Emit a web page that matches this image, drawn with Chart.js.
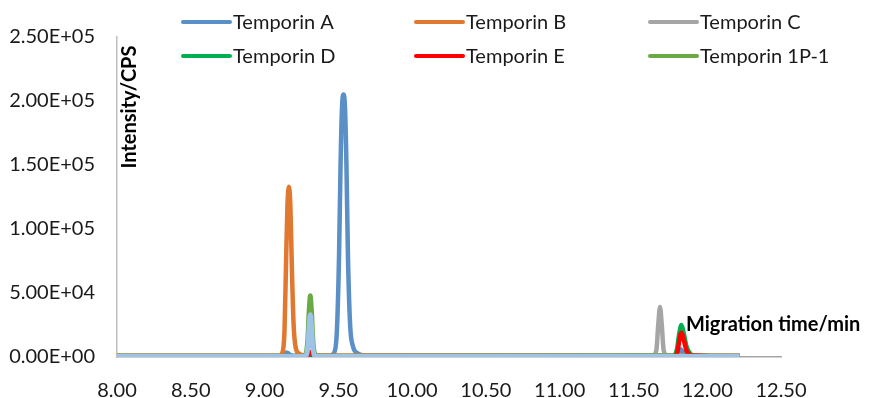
<!DOCTYPE html>
<html>
<head>
<meta charset="utf-8">
<script src="https://cdn.jsdelivr.net/npm/chart.js@4/dist/chart.umd.min.js"></script>
<style>
  html, body { margin: 0; padding: 0; background: #fff; }
  #wrap { position: relative; width: 886px; height: 398px; }
</style>
</head>
<body>
<div id="wrap"><canvas id="cePlot" width="886" height="398"></canvas></div>
<script>
// Tên các chuỗi (chú giải) và màu
const seriesNames = ['Temporin A', 'Temporin B', 'Temporin C', 'Temporin D', 'Temporin E', 'Temporin 1P-1'];
const seriesColors = ['#5B8FC7', '#E0782F', '#A5A5A5', '#00B050', '#FF0000', '#6AAA45', '#9DC3E6'];

// Trục
const xTicks = [8.00, 8.50, 9.00, 9.50, 10.00, 10.50, 11.00, 11.50, 12.00, 12.50];
const yTicks = [0, 50000, 100000, 150000, 200000, 250000];

// Dữ liệu (thời gian di chuyển / cường độ)
const timeA = [8.00, 9.10, 9.13, 9.15, 9.17, 9.20, 9.44, 9.47, 9.49, 9.505, 9.515, 9.525, 9.535, 9.545, 9.555, 9.565, 9.58, 9.60, 9.63, 9.68, 11.77, 11.80, 11.82, 11.84, 11.87, 12.22];
const valA  = [900, 900, 2000, 3500, 2000, 900, 900, 3000, 20000, 80000, 150000, 195000, 205000, 195000, 150000, 80000, 25000, 8000, 3000, 1200, 900, 2500, 6000, 3000, 900, 900];

const timeB = [8.00, 9.10, 9.12, 9.135, 9.145, 9.155, 9.165, 9.175, 9.185, 9.197, 9.21, 9.235, 9.28, 12.22];
const valB  = [1000, 1000, 3000, 20000, 70000, 118000, 133000, 118000, 70000, 25000, 8000, 2500, 1100, 1000];

const timeC = [8.00, 11.63, 11.655, 11.668, 11.68, 11.692, 11.705, 11.73, 12.22];
const valC  = [600, 800, 5000, 25000, 39000, 25000, 5000, 800, 600];

const timeD = [8.00, 11.77, 11.795, 11.81, 11.825, 11.84, 11.86, 11.89, 11.92, 12.22];
const valD  = [600, 800, 6000, 18000, 25000, 19000, 8000, 2000, 800, 600];

const timeE = [8.00, 9.28, 9.30, 9.31, 9.32, 9.34, 11.78, 11.80, 11.812, 11.825, 11.84, 11.86, 11.89, 12.22];
const valE  = [500, 500, 2500, 4000, 2500, 500, 600, 5000, 14000, 19000, 14000, 5000, 1200, 500];

const timeF = [8.00, 9.26, 9.28, 9.292, 9.30, 9.31, 9.32, 9.328, 9.34, 9.36, 12.22];
const valF  = [700, 700, 3000, 15000, 35000, 48000, 35000, 15000, 3000, 800, 700];

// chuỗi thứ 7 (xanh nhạt) - không có trong chú giải
const timeG = [8.00, 9.27, 9.285, 9.295, 9.303, 9.31, 9.317, 9.325, 9.335, 9.35, 12.22];
const valG  = [300, 300, 2000, 10000, 25000, 33000, 25000, 10000, 2000, 300, 300];

const allTimes = [timeA, timeB, timeC, timeD, timeE, timeF, timeG];
const allVals = [valA, valB, valC, valD, valE, valF, valG];

const FONT = 'Lato, "Open Sans", sans-serif';

function sci(v) {
    if (v === 0) return '0.00E+00';
    const e = Math.floor(Math.log10(v));
    const m = v / Math.pow(10, e);
    return m.toFixed(2) + 'E+' + String(e).padStart(2, '0');
}

// Vẽ chú giải + tiêu đề trục
const overlayPlugin = {
    id: 'overlay',
    afterDraw(chart) {
        const c = chart.ctx;
        c.save();
        const colX = [183, 416, 650];
        const rowY = [22, 56];
        c.font = '20px ' + FONT;
        c.textBaseline = 'middle';
        c.textAlign = 'left';
        seriesNames.forEach((name, i) => {
            const x = colX[i % 3];
            const y = rowY[Math.floor(i / 3)];
            c.strokeStyle = seriesColors[i];
            c.lineWidth = 4;
            c.lineCap = 'round';
            c.beginPath();
            c.moveTo(x, y);
            c.lineTo(x + 47, y);
            c.stroke();
            c.fillStyle = '#1a1a1a';
            c.fillText(name, x + 50, y + 1);
        });

        c.font = 'bold 20px ' + FONT;
        c.fillStyle = '#000';
        c.fillText('Migration time/min', 686, 325);

        c.translate(130, 107);
        c.rotate(-Math.PI / 2);
        c.textAlign = 'center';
        c.fillText('Intensity/CPS', 0, 0);
        c.restore();
    }
};

const datasets = allTimes.map((times, i) => ({
    label: seriesNames[i] || '',
    data: times.map((t, k) => ({ x: t, y: allVals[i][k] })),
    borderColor: seriesColors[i],
    borderWidth: i === 6 ? 5 : 4.5,
    pointRadius: 0,
    fill: false,
    cubicInterpolationMode: 'monotone',
    order: allTimes.length - i
}));

new Chart(document.getElementById('cePlot').getContext('2d'), {
    type: 'line',
    data: { datasets },
    options: {
        responsive: false,
        animation: false,
        layout: { padding: { top: 37, right: 105, left: 0, bottom: 0 } },
        plugins: { legend: { display: false }, tooltip: { enabled: false } },
        scales: {
            x: {
                type: 'linear',
                min: 8,
                max: 12.5,
                afterBuildTicks: s => { s.ticks = xTicks.map(v => ({ value: v })); },
                afterFit: s => { s.height = 41; },
                grid: { display: false, drawTicks: false },
                border: { color: '#A6A6A6', width: 1.5 },
                ticks: {
                    padding: 22,
                    color: '#1a1a1a',
                    font: { family: FONT, size: 20 },
                    callback: v => Number(v).toFixed(2)
                }
            },
            y: {
                min: 0,
                max: 250000,
                afterBuildTicks: s => { s.ticks = yTicks.map(v => ({ value: v })); },
                afterFit: s => { s.width = 117; },
                grid: { display: false, drawTicks: false },
                border: { color: '#BFBFBF', width: 1.5 },
                ticks: {
                    padding: 22,
                    color: '#1a1a1a',
                    font: { family: FONT, size: 20 },
                    callback: v => sci(v)
                }
            }
        }
    },
    plugins: [overlayPlugin]
});
</script>
</body>
</html>
